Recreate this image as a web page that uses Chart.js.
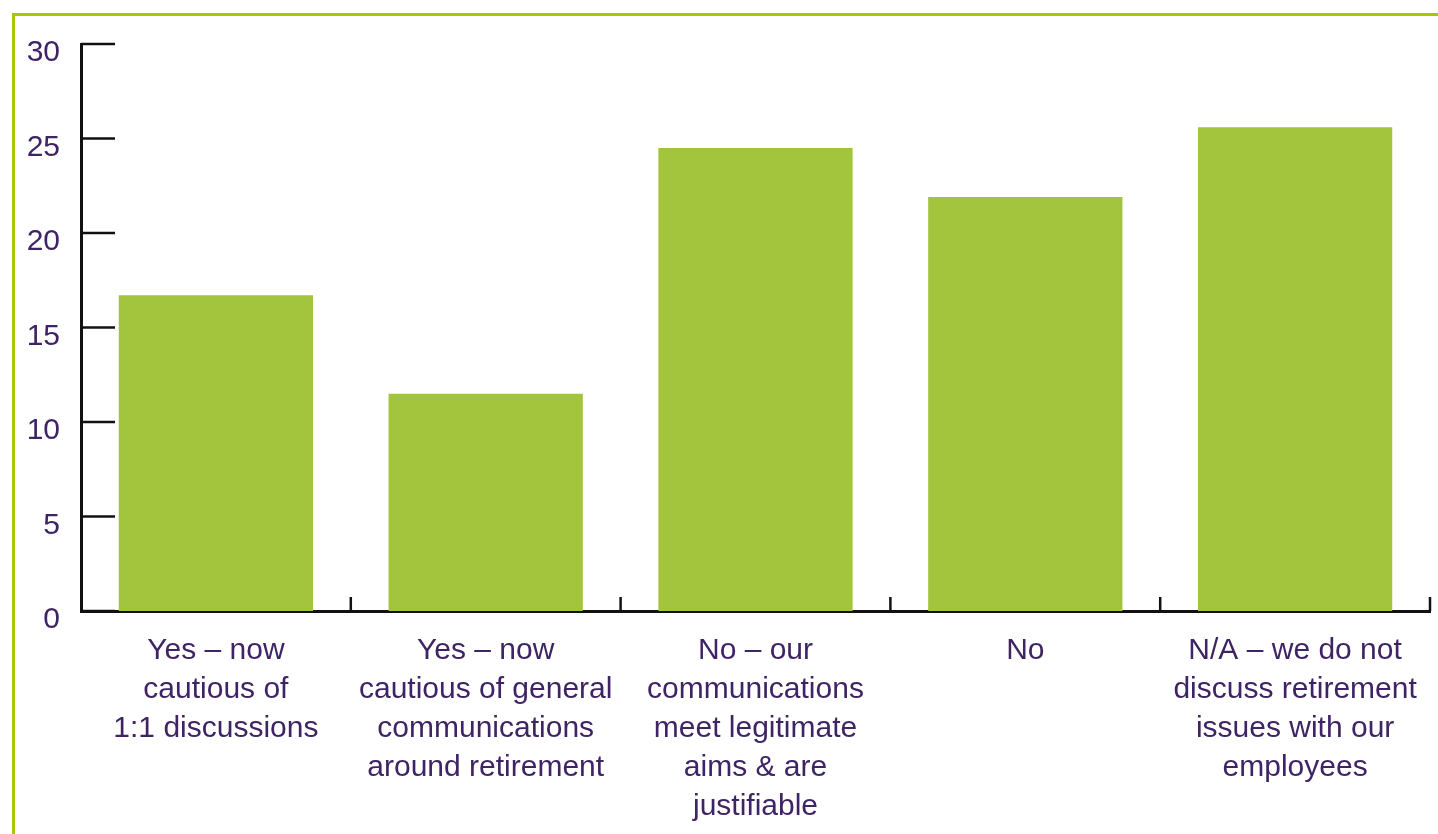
<!DOCTYPE html>
<html>
<head>
<meta charset="utf-8">
<title>Retirement communications</title>
<script src="https://cdn.jsdelivr.net/npm/chart.js@4.4.1/dist/chart.umd.min.js"></script>
<style>
  html, body { margin: 0; padding: 0; background: #fff; overflow: hidden; }
  #frame {
    position: absolute; left: 12px; top: 13px; width: 1440px; height: 840px;
    border-top: 3px solid #a6c70a; border-left: 3px solid #a6c70a;
  }
  #wrap { position: absolute; left: 0; top: 0; width: 1438px; height: 834px; }
</style>
</head>
<body>
<div id="frame"></div>
<div id="wrap"><canvas id="chart"></canvas></div>
<script>
// categories and values
const categories = [
  ['Yes \u2013 now', 'cautious of', '1:1 discussions'],
  ['Yes \u2013 now', 'cautious of general', 'communications', 'around retirement'],
  ['No \u2013 our', 'communications', 'meet legitimate', 'aims & are', 'justifiable'],
  ['No'],
  ['N/A \u2013 we do not', 'discuss retirement', 'issues with our', 'employees']
];
const values = [16.7, 11.5, 24.5, 21.9, 25.6];
const yTicks = [0, 5, 10, 15, 20, 25, 30];

const purple = '#3f2465';
const barGreen = '#a3c43d';

// tick marks pointing into the plot
const innerTicks = {
  id: 'innerTicks',
  afterDraw(chart) {
    const ctx = chart.ctx;
    const x = chart.scales.x, y = chart.scales.y;
    const area = chart.chartArea;
    ctx.save();
    ctx.strokeStyle = '#111';
    ctx.lineWidth = 2.5;
    yTicks.forEach(v => {
      const py = y.getPixelForValue(v);
      ctx.beginPath();
      ctx.moveTo(area.left, py);
      ctx.lineTo(area.left + 34, py);
      ctx.stroke();
    });
    const step = x.getPixelForValue(1) - x.getPixelForValue(0);
    for (let i = 0; i < categories.length; i++) {
      const px = x.getPixelForValue(i) + step / 2;
      ctx.beginPath();
      ctx.moveTo(px, area.bottom - 14);
      ctx.lineTo(px, area.bottom);
      ctx.stroke();
    }
    ctx.restore();
  }
};

const ctx = document.getElementById('chart').getContext('2d');
new Chart(ctx, {
  type: 'bar',
  data: {
    labels: categories,
    datasets: [{
      data: values,
      backgroundColor: barGreen,
      borderWidth: 0,
      barPercentage: 0.72,
      categoryPercentage: 1
    }]
  },
  options: {
    responsive: true,
    maintainAspectRatio: false,
    animation: false,
    layout: { padding: { top: 44, right: 8, bottom: 0, left: 0 } },
    plugins: {
      legend: { display: false },
      tooltip: { enabled: false }
    },
    scales: {
      x: {
        grid: { display: false, drawTicks: false },
        border: { display: true, color: '#111', width: 3 },
        ticks: {
          color: purple,
          font: { family: '"Liberation Sans", Arial, Helvetica, sans-serif', size: 30, lineHeight: 1.3 },
          padding: 20,
          maxRotation: 0,
          autoSkip: false
        },
        afterFit(scale) { scale.height = 223; }
      },
      y: {
        min: 0,
        max: 30,
        grid: { display: false, drawTicks: false },
        border: { display: true, color: '#111', width: 3 },
        afterBuildTicks(scale) { scale.ticks = yTicks.map(v => ({ value: v })); },
        ticks: {
          color: purple,
          font: { family: '"Liberation Sans", Arial, Helvetica, sans-serif', size: 30 },
          padding: 21,
          labelOffset: 9
        },
        afterFit(scale) { scale.width = 81; }
      }
    }
  },
  plugins: [innerTicks]
});
</script>
</body>
</html>
